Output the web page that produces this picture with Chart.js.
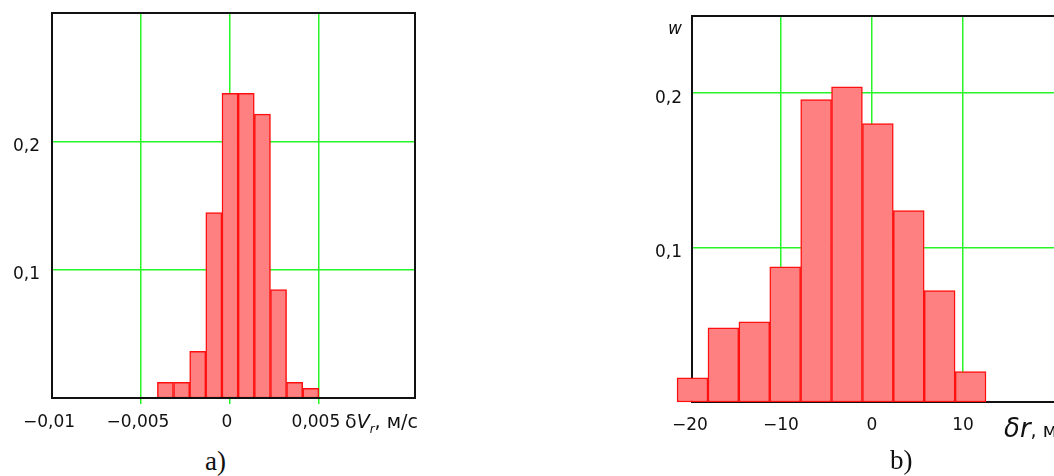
<!DOCTYPE html>
<html>
<head>
<meta charset="utf-8">
<script src="https://cdn.jsdelivr.net/npm/chart.js@4.4.0/dist/chart.umd.min.js"></script>
<style>
  body { margin: 0; background: #fff; width: 1054px; height: 476px; overflow: hidden; position: relative; font-family: "DejaVu Sans", sans-serif; color: #111; }
  canvas { position: absolute; }
  .t { position: absolute; white-space: nowrap; line-height: 1; }
  .cap { font-family: "Liberation Serif", serif; font-size: 27px; }
</style>
</head>
<body>
<canvas id="chartA" width="440" height="445" style="left:0;top:0"></canvas>
<canvas id="chartB" width="454" height="445" style="left:600px;top:0"></canvas>

<div class="t" style="left:345px;top:412px;font-size:19px">δ<i>V</i><sub style="font-size:12px"><i>r</i></sub>, м/с</div>
<div class="t cap" style="left:205px;top:448px">a)</div>

<div class="t" style="left:668px;top:20px;font-size:17px"><i>w</i></div>
<div class="t" style="left:1004px;top:415px"><i style="font-size:26px">δr</i><span style="font-size:19px">, м</span></div>
<div class="t cap" style="left:890px;top:447px">b)</div>

<script>
// a) radial velocity error histogram
const edgesA = [-0.00408, -0.00317, -0.00226, -0.00136, -0.00045, 0.00046, 0.00137, 0.00228, 0.00318, 0.00409, 0.00500];
const freqA = [0.0123, 0.0123, 0.0363, 0.1444, 0.2375, 0.2375, 0.2212, 0.0844, 0.0123, 0.0076];
const xTicksA = [-0.01, -0.005, 0, 0.005];
const yTicksA = [0.1, 0.2];

// b) range error histogram
const edgesB = [-21.41, -18.02, -14.62, -11.23, -7.83, -4.44, -1.05, 2.35, 5.74, 9.14, 12.53];
const freqB = [0.0156, 0.0481, 0.0519, 0.0875, 0.1959, 0.2042, 0.1803, 0.1240, 0.0721, 0.0197];
const xTicksB = [-20, -10, 0, 10];
const yTicksB = [0.1, 0.2];

const GREEN = 'rgb(40,245,40)';
const fmt = v => String(v).replace('.', ',').replace('-', '\u2212');
const toBars = (edges, freq) => freq.map((f, i) => ({ x: (edges[i] + edges[i + 1]) / 2, y: f }));

Chart.defaults.font.family = '"DejaVu Sans", sans-serif';
Chart.defaults.font.size = 17;
Chart.defaults.color = '#111';

const barSet = (edges, freq) => ({
    data: toBars(edges, freq),
    backgroundColor: '#ff8080',
    borderColor: '#ff1010',
    borderWidth: 1.5,
    borderSkipped: false,
    barPercentage: 1,
    categoryPercentage: 1,
    clip: false,
});

// keep the y axis labels from pushing the plot area down
const noVertPad = s => { s.paddingTop = 0; s.paddingBottom = 0; };

let chartA = new Chart(document.getElementById('chartA'), {
    type: 'bar',
    data: { datasets: [barSet(edgesA, freqA)] },
    options: {
        responsive: false,
        animation: false,
        layout: { padding: { left: 0, right: 25, top: 13, bottom: 0 } },
        plugins: { legend: { display: false }, tooltip: { enabled: false } },
        scales: {
            x: {
                type: 'linear',
                min: -0.01,
                max: 0.0104,
                offset: false,
                afterBuildTicks: s => { s.ticks = xTicksA.map(v => ({ value: v })); },
                afterFit: s => { s.height = 47; },
                border: { display: false },
                grid: {
                    offset: false,
                    color: c => c.tick && c.tick.value === -0.01 ? 'rgba(0,0,0,0)' : GREEN,
                    lineWidth: 1.5,
                    tickLength: 6,
                },
                ticks: { padding: 8, labelOffset: -3, maxRotation: 0, callback: v => fmt(v) },
            },
            y: {
                min: 0,
                max: 0.3,
                afterBuildTicks: s => { s.ticks = yTicksA.map(v => ({ value: v })); },
                afterFit: s => { s.width = 52; noVertPad(s); },
                border: { display: false },
                grid: { color: GREEN, lineWidth: 1.5, drawTicks: false },
                ticks: { padding: 12, labelOffset: 5, callback: v => fmt(v) },
            },
        },
    },
    plugins: [{
        id: 'frameA',
        afterDatasetsDraw(chart) {
            const { ctx, chartArea: a } = chart;
            ctx.save();
            ctx.strokeStyle = '#111';
            ctx.lineWidth = 2;
            ctx.strokeRect(a.left, a.top, a.right - a.left, a.bottom - a.top);
            ctx.restore();
        },
    }],
});

let chartB = new Chart(document.getElementById('chartB'), {
    type: 'bar',
    data: { datasets: [barSet(edgesB, freqB)] },
    options: {
        responsive: false,
        animation: false,
        layout: { padding: { left: 0, right: 0, top: 16, bottom: 0 } },
        plugins: { legend: { display: false }, tooltip: { enabled: false } },
        scales: {
            x: {
                type: 'linear',
                min: -19.77,
                max: 20,
                offset: false,
                afterBuildTicks: s => { s.ticks = xTicksB.map(v => ({ value: v })); },
                afterFit: s => { s.height = 43; },
                border: { display: true, color: '#111', width: 2 },
                grid: {
                    offset: false,
                    color: c => c.tick && c.tick.value === -20 ? 'rgba(0,0,0,0)' : GREEN,
                    lineWidth: 1.5,
                    drawTicks: false,
                },
                ticks: { padding: 13, maxRotation: 0, callback: v => fmt(v) },
            },
            y: {
                min: 0,
                max: 0.25,
                afterBuildTicks: s => { s.ticks = yTicksB.map(v => ({ value: v })); },
                afterFit: s => { s.width = 92; noVertPad(s); },
                border: { display: true, color: '#111', width: 2 },
                grid: { color: GREEN, lineWidth: 1.5, drawTicks: false },
                ticks: { padding: 10, labelOffset: 5, callback: v => fmt(v) },
            },
        },
    },
    plugins: [{
        id: 'frameB',
        beforeDatasetsDraw(chart) {
            const { ctx, chartArea: a } = chart;
            ctx.save();
            ctx.strokeStyle = '#111';
            ctx.lineWidth = 2;
            ctx.beginPath();
            ctx.moveTo(a.left, a.top);
            ctx.lineTo(a.right, a.top);
            ctx.stroke();
            ctx.restore();
        },
    }],
});
</script>
</body>
</html>
